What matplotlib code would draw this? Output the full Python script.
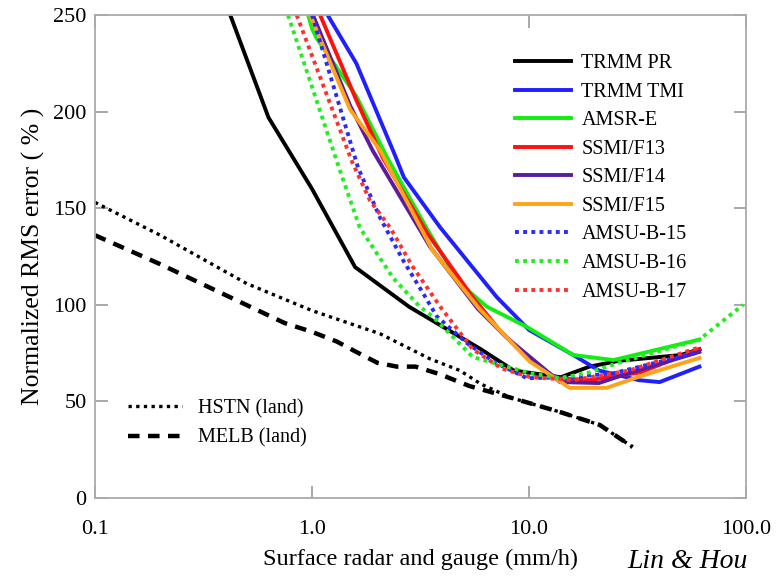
import matplotlib
matplotlib.use("Agg")
import matplotlib.pyplot as plt

plt.rcParams["font.family"] = ["Liberation Serif", "DejaVu Serif"]

# rain rate (mm/h) and normalized RMS error (%)
pr_x = [0.42, 0.63, 1.0, 1.58, 2.8, 6.0, 8.5, 14, 19, 26, 50, 61]
pr_y = [250, 197, 160, 119.5, 99, 77, 66, 62.5, 68, 71, 74, 77]

tmi_x = [1.18, 1.6, 2.4, 2.65, 3.9, 7.1, 10, 16, 21, 32, 40, 61]
tmi_y = [250, 225, 178, 166, 140, 104, 87, 74, 66, 61, 60, 68]

amsre_x = [0.96, 1.0, 1.05, 1.6, 2.2, 3.4, 4.8, 6.4, 9.8, 16, 24.5, 61]
amsre_y = [250, 243, 238, 208, 177, 139, 111, 99, 88.5, 74, 71.4, 82]

f13_x = [1.09, 1.6, 2.12, 3.4, 5.5, 7.3, 10.1, 13.4, 19, 32.5, 61]
f13_y = [250, 206, 176, 137, 104, 87, 71, 62, 61, 65, 77]

f14_x = [1.01, 1.5, 1.9, 3.5, 5.8, 7.9, 13.9, 21, 29, 61]
f14_y = [250, 203, 180, 130, 98, 83, 60, 59.5, 64.7, 75.6]

f15_x = [0.98, 1.5, 2.06, 3.6, 5.9, 10.1, 15.4, 22.8, 32.5, 61]
f15_y = [250, 201, 180, 128, 98, 70.6, 57, 57, 63, 72.5]

b15_x = [1.0, 1.63, 2.06, 2.63, 3.25, 3.76, 5.2, 7.0, 9.8, 16, 24.5, 61]
b15_y = [250, 171, 145, 123, 106, 94, 80, 70, 62, 62.6, 64.6, 75.6]

b16_x = [0.775, 1.35, 1.66, 2.36, 3.14, 3.6, 5.5, 10.1, 13.9, 19, 26, 61, 97]
b16_y = [250, 169, 140, 114, 99, 94, 73, 64.6, 62, 65, 70, 82, 100]

b17_x = [0.85, 1.53, 1.85, 2.29, 2.9, 3.9, 5.5, 7.5, 10.1, 16, 29, 61]
b17_y = [250, 174, 154, 140, 120, 99, 77, 67, 62.6, 61, 66, 78]

hstn_x = [0.1, 0.2, 0.5, 1.0, 2.06, 3.5, 4.8, 6.0, 8.2, 13.9, 21.2, 30]
hstn_y = [153, 136, 111, 97, 85, 72, 66, 59, 52, 44.5, 37.8, 26.4]

melb_x = [0.1, 0.2, 0.75, 1.0, 1.3, 1.6, 2.0, 2.46, 3.0, 3.9, 5.3, 8.2, 13.9, 21.2, 30]
melb_y = [136, 121, 90.5, 86, 81, 75.6, 70, 68, 68, 64, 58, 52, 44.5, 37.8, 26.4]

x_ticks = [0.1, 1.0, 10.0, 100.0]
x_tick_labels = ["0.1", "1.0", "10.0", "100.0"]
y_ticks = [0, 50, 100, 150, 200, 250]

fig = plt.figure(figsize=(7.77, 5.76), dpi=100)
ax = fig.add_axes([95 / 777, 78 / 576, 651 / 777, 483 / 576])

lw = 2.8
dot = (0, (1, 1.1))
sat = [
    (pr_x, pr_y, "black", "-", "TRMM PR"),
    (tmi_x, tmi_y, "#1f1fff", "-", "TRMM TMI"),
    (amsre_x, amsre_y, "#11ee11", "-", "AMSR-E"),
    (f13_x, f13_y, "#ff1010", "-", "SSMI/F13"),
    (f14_x, f14_y, "#5b1aa0", "-", "SSMI/F14"),
    (f15_x, f15_y, "#ffa31a", "-", "SSMI/F15"),
    (b15_x, b15_y, "#2a2aff", dot, "AMSU-B-15"),
    (b16_x, b16_y, "#22ee22", dot, "AMSU-B-16"),
    (b17_x, b17_y, "#ff3030", dot, "AMSU-B-17"),
]

handles = []
for xs, ys, col, ls, lab in sat:
    (h,) = ax.plot(xs, ys, color=col, linestyle=ls, linewidth=lw, label=lab)
    handles.append(h)

(h_hstn,) = ax.plot(hstn_x, hstn_y, color="black", linestyle=(0, (1, 1.3)),
                    linewidth=2.4, label="HSTN (land)")
(h_melb,) = ax.plot(melb_x, melb_y, color="black", linestyle=(0, (2.6, 1.9)),
                    linewidth=3.2, label="MELB (land)")

ax.set_xscale("log")
ax.set_xlim(0.1, 100)
ax.set_ylim(0, 250)
ax.set_xticks(x_ticks)
ax.set_xticklabels(x_tick_labels)
ax.set_yticks(y_ticks)
ax.minorticks_off()
ax.tick_params(which="both", direction="in", length=9, width=1.2,
               color="#999999", top=True, right=True, labelsize=16)
ax.tick_params(axis="x", pad=16)
ax.tick_params(axis="y", pad=6)
for sp in ax.spines.values():
    sp.set_color("#aaaaaa")
    sp.set_linewidth(1.3)

ax.set_xlabel("Surface radar and gauge (mm/h)", fontsize=17.5, labelpad=7)
ax.set_ylabel("Normalized RMS error ( % )", fontsize=18.5, labelpad=6)

leg1 = ax.legend(handles=handles, loc="upper left",
                 bbox_to_anchor=(515 / 777, 1 - 54 / 576),
                 bbox_transform=fig.transFigure, frameon=False,
                 fontsize=14.5, handlelength=2.8, handletextpad=0.5,
                 labelspacing=0.47, borderpad=0, borderaxespad=0)
ax.add_artist(leg1)
ax.legend(handles=[h_hstn, h_melb], loc="upper left",
          bbox_to_anchor=(128 / 777, 1 - 399 / 576),
          bbox_transform=fig.transFigure, frameon=False,
          fontsize=14.5, handlelength=2.7, handletextpad=0.8,
          labelspacing=0.52, borderpad=0, borderaxespad=0)

fig.text(627 / 777, 1 - 549 / 576, "Lin & Hou", fontsize=20, style="italic",
         va="top", ha="left")

fig.savefig("out.png", dpi=100)
